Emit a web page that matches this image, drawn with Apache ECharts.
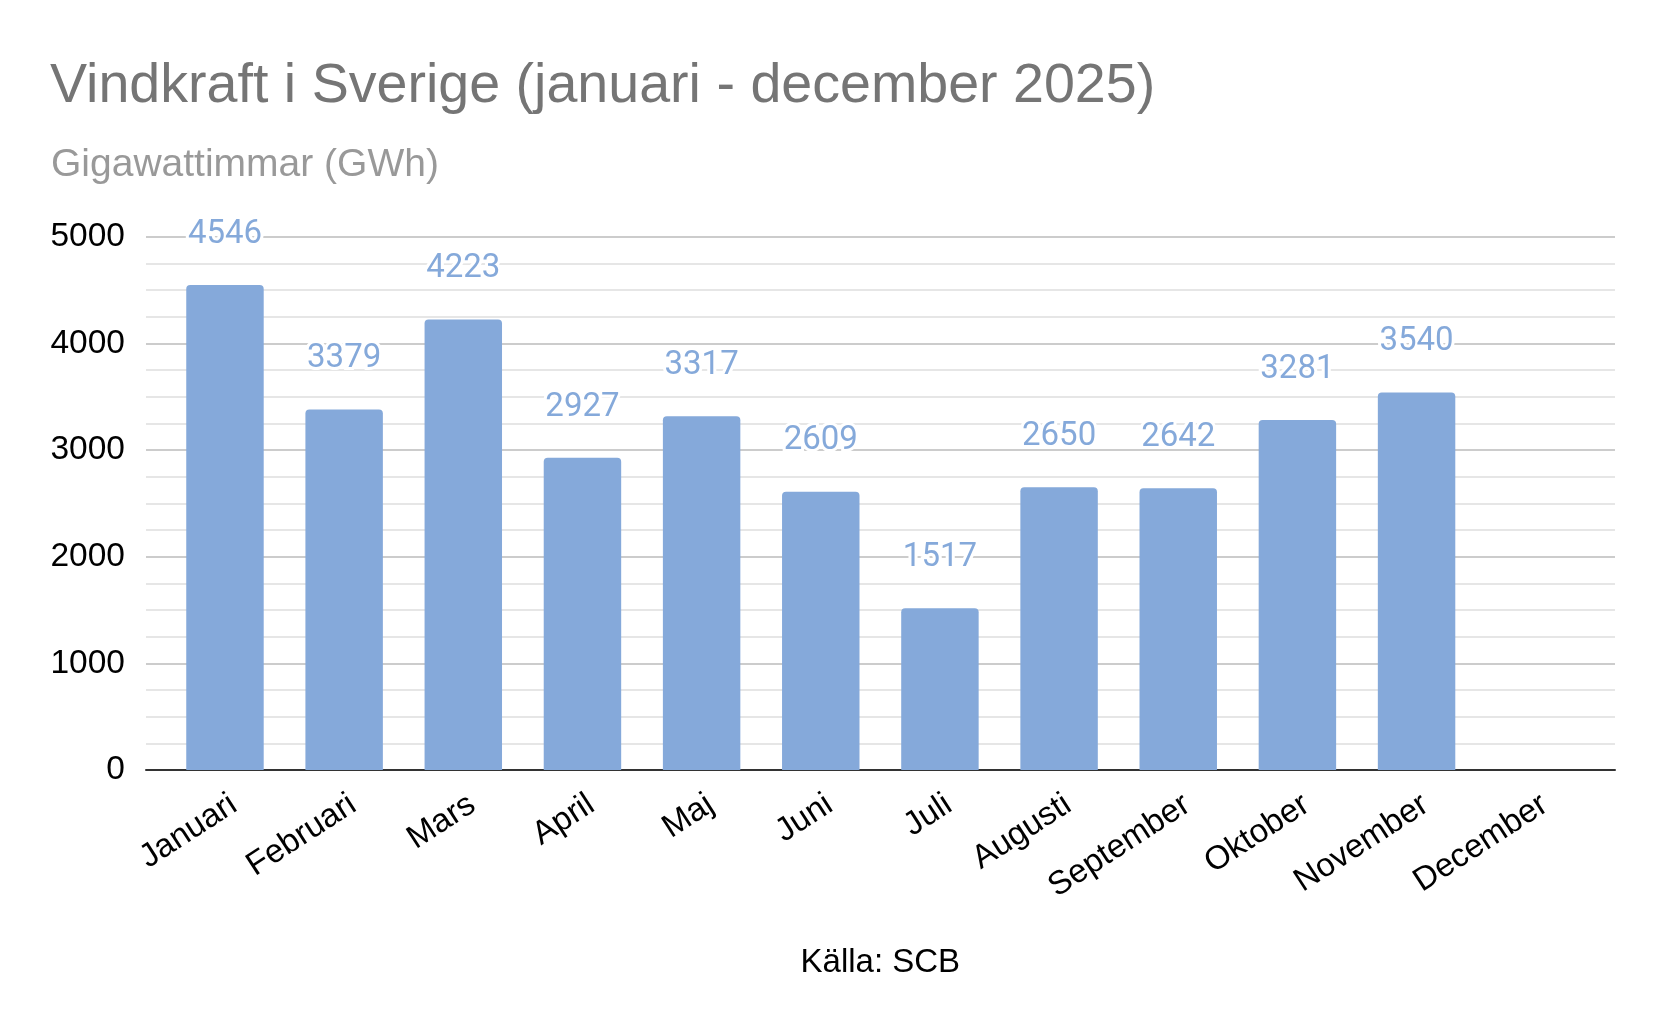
<!DOCTYPE html>
<html>
<head>
<meta charset="utf-8">
<script src="https://cdn.jsdelivr.net/npm/echarts@6/dist/echarts.min.js"></script>
<style>
html,body{margin:0;padding:0;background:#fff;}
#chart{width:1666px;height:1030px;}
</style>
</head>
<body>
<div id="chart"></div>
<script>
const titleText = 'Vindkraft i Sverige (januari - december 2025)';
const subtitleText = 'Gigawattimmar (GWh)';
const sourceText = 'Källa: SCB';
const months = ['Januari','Februari','Mars','April','Maj','Juni','Juli','Augusti','September','Oktober','November','December'];
const values = [4546, 3379, 4223, 2927, 3317, 2609, 1517, 2650, 2642, 3281, 3540, null];
const yTicks = [0, 1000, 2000, 3000, 4000, 5000];

const barColor = '#85a9da';
const font = '"Liberation Sans", Arial, sans-serif';

const chart = echarts.init(document.getElementById('chart'), null, {renderer: 'canvas'});
const gridTop = 236.7, gridBottom = 260;
chart.setOption({
  animation: false,
  backgroundColor: '#fff',
  title: [
    {text: titleText, left: 50, top: 59, padding: 0,
     textStyle: {fontFamily: font, fontSize: 55.6, fontWeight: 'normal', color: '#757575'}},
    {text: subtitleText, left: 51, top: 146, padding: 0,
     textStyle: {fontFamily: font, fontSize: 39, fontWeight: 'normal', color: '#999999'}}
  ],
  grid: [
    {left: 146, right: 51, top: gridTop, bottom: gridBottom},
    {left: 165.4, right: 70.7, top: gridTop, bottom: gridBottom}
  ],
  xAxis: [
    {type: 'category', gridIndex: 0, data: [''], boundaryGap: true,
     axisLine: {show: true, lineStyle: {color: '#333333', width: 2}},
     axisTick: {show: false}, axisLabel: {show: false}, splitLine: {show: false}},
    {type: 'category', gridIndex: 1, data: months,
     axisLine: {show: false}, axisTick: {show: false},
     axisLabel: {interval: 0, rotate: 33, margin: 18, color: '#000',
                 verticalAlign: 'top', fontFamily: font, fontSize: 33},
     name: sourceText, nameLocation: 'middle', nameGap: 176,
     nameTextStyle: {fontFamily: font, fontSize: 33, color: '#000'}}
  ],
  yAxis: [
    {type: 'value', gridIndex: 0, min: yTicks[0], max: yTicks[yTicks.length-1], interval: 1000,
     axisLine: {show: false}, axisTick: {show: false},
     axisLabel: {margin: 21, color: '#000', fontFamily: font, fontSize: 33.5,
                 formatter: v => String(v)},
     splitLine: {show: true, lineStyle: {color: '#cccccc', width: 2}},
     minorTick: {show: false, splitNumber: 4},
     minorSplitLine: {show: true, lineStyle: {color: '#e6e6e6', width: 2}}},
    {type: 'value', gridIndex: 1, min: yTicks[0], max: yTicks[yTicks.length-1], interval: 1000,
     show: false}
  ],
  series: [{
    type: 'bar',
    xAxisIndex: 1, yAxisIndex: 1,
    data: values,
    barWidth: '65%',
    itemStyle: {color: barColor, borderRadius: [4, 4, 0, 0]},
    label: {show: true, position: 'top', distance: 34,
            fontFamily: 'Roboto', fontSize: 33, color: barColor,
            textBorderColor: '#fff', textBorderWidth: 6}
  }]
});
</script>
</body>
</html>
